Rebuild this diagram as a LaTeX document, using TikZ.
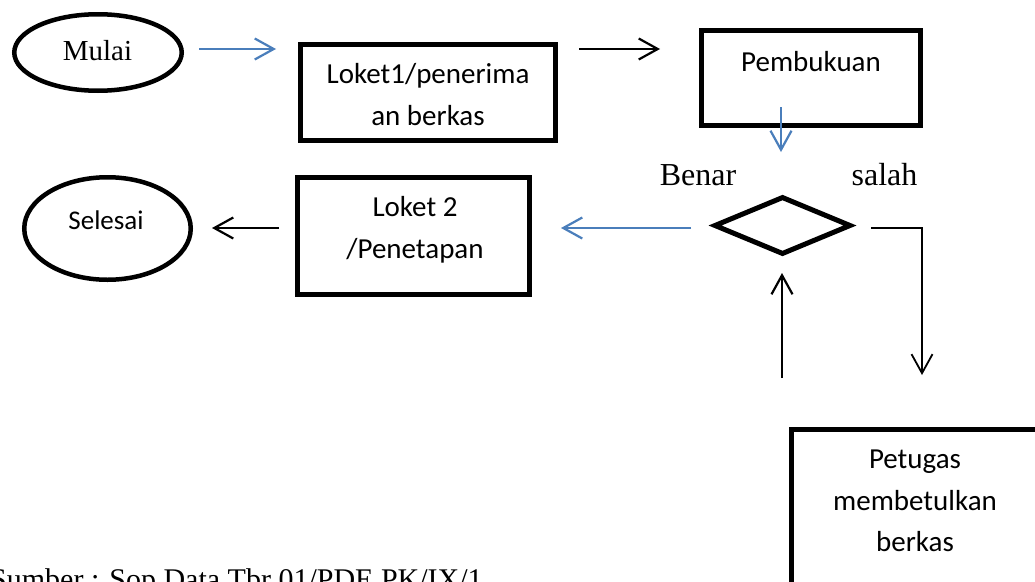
\documentclass[tikz,border=0pt]{standalone}
\usepackage{fontspec}
\setmainfont{Liberation Serif}
\newfontfamily\calfont{Carlito}
\usetikzlibrary{arrows.meta,shapes.geometric}
\definecolor{wordblue}{RGB}{74,126,187}
\begin{document}
\begin{tikzpicture}[x=1pt,y=-1pt,
  term/.style={draw,ellipse,line width=4.5pt,inner sep=0pt},
  proc/.style={draw,rectangle,line width=5pt,inner sep=0pt},
  dec/.style={draw,diamond,line width=5pt,inner sep=0pt},
  serif/.style={font=\fontsize{32}{38}\selectfont,anchor=base,inner sep=0pt},
  cal/.style={font=\calfont\fontsize{29}{41.5}\selectfont,align=center,anchor=base,inner sep=0pt},
  flow/.style={line width=2.2pt,-{Straight Barb[length=19pt,width=21pt]}},
  blueflow/.style={flow,draw=wordblue},
  ]
\useasboundingbox[fill=white] (0,0) rectangle (1035,581);

% shapes
\node[term,minimum width=167.5pt,minimum height=76.5pt] (mulai) at (98,52.5) {};
\node[term,minimum width=166.5pt,minimum height=102.5pt] (selesai) at (107.5,228.5) {};
\node[proc,minimum width=255pt,minimum height=96pt] (loket1) at (428,92.5) {};
\node[proc,minimum width=219pt,minimum height=95pt] (pemb) at (811,78) {};
\node[proc,minimum width=232pt,minimum height=117pt] (loket2) at (413.5,236) {};
\node[proc,minimum width=247pt,minimum height=230pt] (petugas) at (915,544.5) {};
\node[dec,minimum width=137pt,minimum height=58pt] (cek) at (782.5,225.5) {};

% texts (base = baseline of the last line)
\node[serif,font=\fontsize{29}{35}\selectfont] (tmulai) at (97.5,60) {Mulai};
\node[cal,font=\calfont\fontsize{27}{32}\selectfont] (tselesai) at (106,229) {Selesai};
\node[cal] (tloket1) at (428,125) {Loket1/penerima\\an berkas};
\node[cal] (tpemb) at (811,71.7) {Pembukuan};
\node[cal] (tloket2) at (415,258) {Loket 2\\/Penetapan};
\node[cal] (tpetugas) at (915,551.7) {Petugas\\membetulkan\\berkas};
\node[serif] (benar) at (698,185) {Benar};
\node[serif] (salah) at (884.5,185) {salah};
\node[serif,font=\fontsize{30}{36}\selectfont,anchor=base west] (sumber) at (-10,589) {Sumber : Sop Data Tbr 01/PDE PK/IX/1};

% connector ends
\coordinate (a1s) at (199,49);  \coordinate (a1e) at (276,49);
\coordinate (a2s) at (579,49);  \coordinate (a2e) at (660,49);
\coordinate (a3s) at (781,107); \coordinate (a3e) at (781,152);
\coordinate (a4s) at (691,228); \coordinate (a4e) at (561,228);
\coordinate (a5s) at (279,228); \coordinate (a5e) at (212,228);
\coordinate (a6s) at (871,228); \coordinate (a6b) at (922,228); \coordinate (a6e) at (922,375);
\coordinate (a7s) at (782,378); \coordinate (a7e) at (782,273);

% connectors
\draw[blueflow] (a1s) -- (a1e);
\draw[flow] (a2s) -- (a2e);
\draw[blueflow] (a3s) -- (a3e);
\draw[blueflow] (a4s) -- (a4e);
\draw[flow] (a5s) -- (a5e);
\draw[flow,line width=1.8pt] (a6s) -- (a6b) -- (a6e);
\draw[flow] (a7s) -- (a7e);
\end{tikzpicture}
\end{document}
